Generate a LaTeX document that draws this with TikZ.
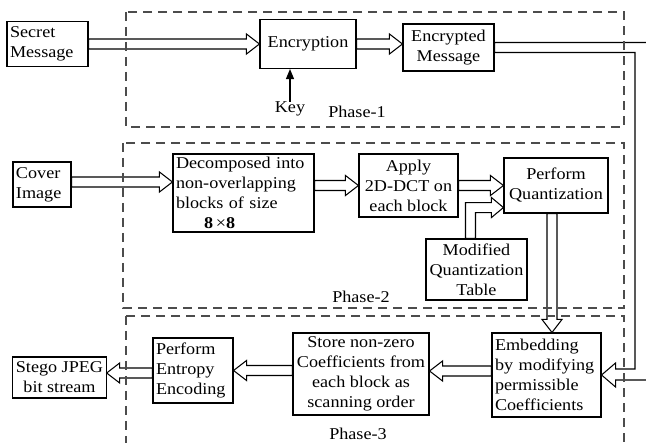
\documentclass[tikz,border=0pt]{standalone}
\usepackage{fontspec}
\setmainfont{Liberation Serif}[FakeStretch=1.1]
\usetikzlibrary{calc,arrows.meta}
\newcommand\fs{\fontsize{16.5}{20}\selectfont}
\newcommand\holarrow[2]{%
  \coordinate (hb) at ($(#2)!13pt!(#1)$);
  \draw[hol] ($(#1)!5pt!90:(#2)$) -- ($(hb)!5pt!-90:(#1)$) -- ($(hb)!10pt!-90:(#1)$)
    -- (#2) -- ($(hb)!10pt!90:(#1)$) -- ($(hb)!5pt!90:(#1)$) -- ($(#1)!5pt!-90:(#2)$) -- cycle;}
\begin{document}
\begin{tikzpicture}[x=1pt,y=-1pt,
  box/.style={draw, line width=1.1pt, fill=white, inner xsep=3pt, inner ysep=0pt, font=\fs},
  phase/.style={draw=black!70, line width=1.2pt, dash pattern=on 9pt off 6pt},
  hol/.style={draw, line width=1.05pt, fill=white, line join=miter},
  lbl/.style={font=\fs, inner sep=0pt}]
\useasboundingbox[fill=white] (0,0) rectangle (646,443);

% nodes
\node[box, minimum width=81pt, minimum height=45pt, text width=75pt, align=left] (sm) at (47.5,44) {Secret\\Message};
\node[box, minimum width=96pt, minimum height=49pt, align=center] (enc) at (308,44) {Encryption};
\node[box, minimum width=91pt, minimum height=47pt, align=center] (encm) at (448.5,47.5) {Encrypted\\Message};
\node[lbl] (key) at (290,109) {Key};
\node[box, minimum width=58pt, minimum height=45pt, text width=52pt, align=left] (cov) at (42,184.5) {Cover\\Image};
\node[box, minimum width=141pt, minimum height=78pt, text width=135pt, align=left] (dec) at (243.5,193) {Decomposed into\\non-overlapping\\blocks of size\\\hspace*{28pt}\textbf{8}\,×\textbf{8}};
\node[box, minimum width=99pt, minimum height=63pt, align=center] (app) at (408.5,185.5) {Apply\\2D-DCT on\\each block};
\node[box, minimum width=104pt, minimum height=55pt, align=center] (pq) at (556,185.5) {Perform\\Quantization};
\node[box, minimum width=101pt, minimum height=61pt, align=center] (mq) at (476.5,269.5) {Modified\\Quantization\\Table};
\node[box, minimum width=109pt, minimum height=84pt, text width=103pt, align=left] (emb) at (546.5,375) {Embedding\\by modifying\\permissible\\Coefficients};
\node[box, minimum width=136pt, minimum height=82pt, align=center] (sto) at (361,374) {Store non-zero\\Coefficients from\\each block as\\scanning order};
\node[box, minimum width=80pt, minimum height=65pt, text width=74pt, align=left] (ent) at (193,370.5) {Perform\\Entropy\\Encoding};
\node[box, minimum width=93pt, minimum height=41pt, align=center] (steg) at (59.5,377.5) {Stego JPEG\\bit stream};

\node[lbl] (p1) at (357,112) {Phase-1};
\node[lbl] (p2) at (361,297) {Phase-2};
\node[lbl] (p3) at (358,433.5) {Phase-3};

% arrows
\draw[line width=1.2pt, -{Triangle[width=8pt,length=10pt]}] (key.north) -- (key.north |- enc.south);
\holarrow{sm.east}{sm.east -| enc.west}
\holarrow{enc.east}{enc.east -| encm.west}
\draw[hol] let \p1=(encm.east), \p2=(emb.east) in
  ({\x1},{\y1+5pt}) -- (652pt,{\y1+5pt}) -- (652pt,{\y2-5pt}) -- ({\x2+14pt},{\y2-5pt})
  -- ({\x2+14pt},{\y2-12pt}) -- (\p2) -- ({\x2+14pt},{\y2+12pt}) -- ({\x2+14pt},{\y2+6pt})
  -- (635pt,{\y2+6pt}) -- (635pt,{\y1-5pt}) -- ({\x1},{\y1-5pt}) -- cycle;
\coordinate (c1) at ([yshift=2.5pt]cov.east);
\holarrow{c1}{c1 -| dec.west}
\holarrow{dec.east |- app.west}{app.west}
\holarrow{app.east}{app.east -| pq.west}
\coordinate (c5) at ([xshift=-6pt]mq.north);
\coordinate (c6) at ([yshift=6pt]pq.south west);
\draw[hol] let \p1=(c5), \p2=(c6) in
  ({\x1-5pt},{\y1}) -- ({\x1-5pt},{\y2+5pt}) -- ({\x2-12pt},{\y2+5pt}) -- ({\x2-12pt},{\y2+10pt})
  -- (\p2) -- ({\x2-12pt},{\y2-10pt}) -- ({\x2-12pt},{\y2-5pt}) -- ({\x1+5pt},{\y2-5pt})
  -- ({\x1+5pt},{\y1}) -- cycle;
\coordinate (c2) at ([xshift=-4pt]pq.south);
\holarrow{c2}{c2 |- emb.north}
\coordinate (c3) at ([yshift=4pt]emb.west);
\holarrow{c3}{c3 -| sto.east}
\holarrow{sto.west |- ent.east}{ent.east}
\coordinate (c4) at ([yshift=-2.5pt]ent.west);
\holarrow{c4}{c4 -| steg.east}

% phases
\draw[phase] (126,12) rectangle (624,127);
\draw[phase] (123,143) rectangle (624,308);
\draw[phase] (126,316) rectangle (624,460);
\end{tikzpicture}
\end{document}
